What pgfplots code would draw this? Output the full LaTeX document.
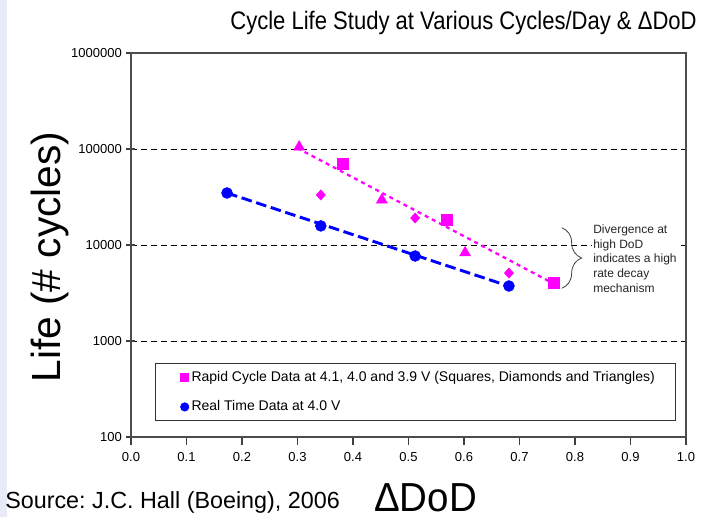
\documentclass[border=0pt]{standalone}
\usepackage{pgfplots}
\pgfplotsset{compat=1.18}
\usepackage{fontspec}
\setmainfont{Liberation Sans}
\usetikzlibrary{decorations.pathreplacing}
\frenchspacing

\definecolor{rapid}{RGB}{255,0,255}
\definecolor{realt}{RGB}{0,0,255}
\definecolor{strip}{RGB}{232,235,247}

\begin{document}
\begin{tikzpicture}
% page = 710 x 517 px at 0.75pt/px, origin at lower left of plot area
\path[use as bounding box] (-98.25pt,-60pt) rectangle (434.25pt,327.75pt);
\fill[strip] (-98.25pt,-60pt) rectangle (-93pt,327.75pt);

\begin{axis}[
    at={(0,0)}, anchor=south west,
    scale only axis,
    width=416.25pt, height=288pt,
    xmin=0, xmax=1,
    ymode=log, ymin=100, ymax=1000000,
    xtick={0,0.1,0.2,0.3,0.4,0.5,0.6,0.7,0.8,0.9,1.0},
    ytick={100,1000,10000,100000,1000000},
    yticklabels={100,1000,10000,100000,1000000},
    yminorticks=false,
    xtick pos=bottom, ytick pos=left,
    xticklabel style={yshift=-4.5pt, /pgf/number format/.cd, fixed, fixed zerofill, precision=1},
    /pgf/number format/assume math mode=true,
    tick label style={font=\fontsize{9.75}{11}\selectfont},
    tick align=center,
    major tick length=6.75pt,
    xtick style={yshift=-2.6pt},
    tick style={black!75, line width=0.8pt},
    axis line style={black!70, line width=0.9pt},
    ymajorgrids,
    grid style={black, line width=0.6pt, dash pattern=on 4.5pt off 3pt},
    legend style={at={(0.043,0.042)}, anchor=south west,
        draw=black!80, line width=0.6pt,
        font=\fontsize{10.5}{12}\selectfont,
        inner xsep=13.5pt, inner ysep=3.6pt, row sep=9.3pt},
    legend cell align=left,
    legend image code/.code={\path (0pt,0pt); \draw[#1] plot coordinates {(8.3pt,0pt)};},
]
\addlegendimage{only marks, mark=square*, color=rapid, mark size=3.1pt}
\addlegendentry{Rapid Cycle Data at 4.1, 4.0 and 3.9 V (Squares, Diamonds and Triangles)}
\addlegendimage{only marks, mark=*, color=realt, mark size=3.1pt}
\addlegendentry{Real Time Data at 4.0 V}

% trend lines
\addplot[forget plot, rapid, line width=1.7pt, dash pattern=on 3pt off 3pt]
    coordinates {(0.300,102000) (0.760,4000)};
\addplot[forget plot, realt, line width=2.2pt, dash pattern=on 8pt off 3.5pt]
    coordinates {(0.173,34800) (0.680,3740)};

% rapid cycle: squares
\addplot[forget plot, only marks, mark=square*, color=rapid, mark size=4.1pt]
    coordinates {(0.382,69800) (0.569,18200) (0.762,4020)};
% rapid cycle: diamonds
\addplot[forget plot, only marks, mark=diamond*, color=rapid, mark size=3.8pt,
    every mark/.append style={xscale=1.2}]
    coordinates {(0.342,33200) (0.512,19100) (0.681,5100)};
% rapid cycle: triangles
\addplot[forget plot, only marks, mark=triangle*, color=rapid, mark size=4.7pt]
    coordinates {(0.303,105000) (0.452,29500) (0.602,8300)};
% real time: circles
\addplot[forget plot, only marks, mark=*, color=realt, mark size=4.1pt]
    coordinates {(0.173,34800) (0.342,15800) (0.512,7680) (0.681,3740)};
\end{axis}

% titles and labels
\node[anchor=base, inner sep=0pt, xscale=0.87, font=\fontsize{19}{22}\selectfont] at (249.4pt,305.25pt)
    {Cycle Life Study at Various Cycles/Day \& ΔDoD};
\node[rotate=90, font=\fontsize{30.5}{34}\selectfont] at (-60.75pt,135pt)
    {Life (\# cycles)};
\node[anchor=base, inner sep=0pt, xscale=0.95, font=\fontsize{30.4}{33}\selectfont] at (220.9pt,-56pt) {ΔDoD};
\node[anchor=west, inner sep=0pt, font=\fontsize{17.5}{20}\selectfont]
    at (-94.5pt,-48.75pt) {Source: J.C. Hall (Boeing), 2006};

% annotation
\draw[black!75, line width=0.6pt, decorate, decoration={brace, amplitude=15pt}]
    (323pt,157pt) -- (323pt,111.5pt);
\node[anchor=west, inner xsep=1pt, inner ysep=0pt, fill=white, align=left, text=black!85,
    font=\fontsize{9}{11}\selectfont] at (345.5pt,133.9pt)
    {Divergence at\\high DoD\\indicates a high\\rate decay\\mechanism};
\end{tikzpicture}
\end{document}
